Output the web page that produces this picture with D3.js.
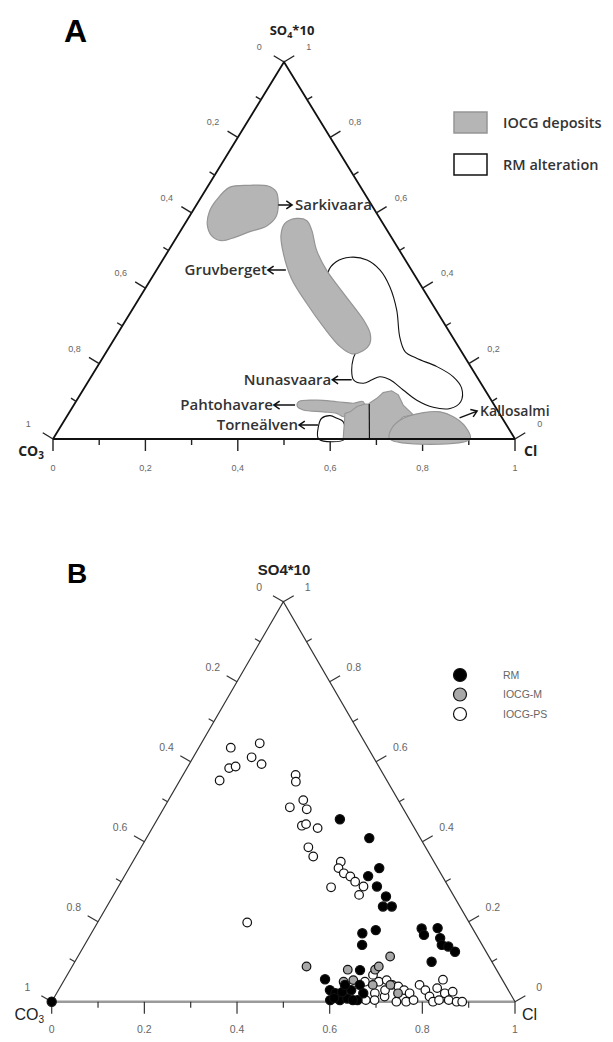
<!DOCTYPE html>
<html>
<head>
<meta charset="utf-8">
<script src="https://cdn.jsdelivr.net/npm/d3@7/dist/d3.min.js"></script>
<style>
  body { margin: 0; background: #fff; }
  text { font-family: "Liberation Sans", Arial, sans-serif; }
</style>
</head>
<body>
<svg id="chart" width="613" height="1042"></svg>
<script>
// all compositions are [Cl, SO4*10] fractions, CO3 = 1 - Cl - SO4

// --- panel A: fields ---
var sarkivaara = [[0.049,0.668],[0.090,0.673],[0.130,0.671],[0.155,0.656],[0.173,0.629],[0.188,0.590],[0.180,0.565],[0.151,0.550],[0.126,0.535],[0.102,0.526],[0.074,0.539],[0.050,0.568],[0.037,0.603],[0.037,0.634]];
var gruvberget = [[0.235,0.585],[0.260,0.579],[0.283,0.554],[0.320,0.501],[0.368,0.448],[0.435,0.387],[0.514,0.316],[0.545,0.282],[0.559,0.254],[0.554,0.234],[0.534,0.226],[0.499,0.245],[0.436,0.298],[0.369,0.360],[0.303,0.426],[0.252,0.493],[0.223,0.541],[0.216,0.572]];
var rmAlteration = [[0.402,0.482],[0.442,0.475],[0.484,0.448],[0.527,0.404],[0.573,0.342],[0.615,0.271],[0.646,0.232],[0.680,0.214],[0.735,0.192],[0.784,0.165],[0.817,0.135],[0.833,0.099],[0.819,0.081],[0.781,0.084],[0.736,0.103],[0.693,0.130],[0.651,0.157],[0.625,0.165],[0.612,0.157],[0.598,0.148],[0.572,0.157],[0.555,0.183],[0.543,0.214],[0.540,0.232],[0.524,0.280],[0.487,0.311],[0.439,0.355],[0.402,0.395],[0.374,0.443],[0.378,0.470]];
var torneaelven = [[0.575,0],[0.558,0.033],[0.554,0.055],[0.569,0.062],[0.587,0.055],[0.605,0.046],[0.632,0]];
var pahtohavare = [[0.482,0.099],[0.519,0.103],[0.565,0.099],[0.603,0.095],[0.622,0.099],[0.638,0.068],[0.609,0.068],[0.599,0.059],[0.580,0.068],[0.549,0.072],[0.503,0.077],[0.486,0.086]];
var centralLeft = [[0.628,0],[0.598,0.068],[0.607,0.072],[0.615,0.086],[0.629,0.093],[0.638,0.093],[0.685,0]];
var centralRight = [[0.685,0],[0.637,0.095],[0.647,0.108],[0.653,0.123],[0.669,0.128],[0.689,0.117],[0.713,0.090],[0.748,0.064],[0.729,0.059],[0.720,0.033],[0.729,0]];
var kallosalmi = [[0.729,0],[0.719,0.028],[0.731,0.055],[0.767,0.070],[0.802,0.072],[0.837,0.059],[0.876,0.033],[0.903,0]];
var divider = [[0.638,0.093],[0.685,0]];

// labels with arrows (tail at field, head at label)
var annoNames = ["Sarkivaara", "Gruvberget", "Nunasvaara", "Pahtohavare", "Torneälven", "Kallosalmi"];
var annoFrom = [[0.177,0.621],[0.280,0.448],[0.568,0.157],[0.479,0.090],[0.555,0.037],[0.852,0.056]];
var annoTo = [[0.207,0.621],[0.241,0.448],[0.526,0.157],[0.433,0.090],[0.514,0.037],[0.881,0.074]];

// --- panel B: samples ---
var rmPoints = [[0,0],
  [0.394,0.456],[0.481,0.409],[0.540,0.334],[0.526,0.314],[0.558,0.288],[0.590,0.263],[0.596,0.238],
  [0.615,0.238],[0.610,0.179],[0.585,0.171],[0.599,0.142],
  [0.707,0.183],[0.720,0.167],[0.741,0.184],[0.759,0.159],[0.771,0.142],[0.787,0.138],[0.808,0.125],[0.770,0.100],
  [0.562,0.056],[0.586,0.029],[0.602,0.021],[0.599,0.004],[0.620,0.004],[0.634,0.008],[0.632,0.029],
  [0.658,0.004],[0.626,0.079],[0.662,0.021],[0.615,0.024],[0.648,0.004],[0.612,0.042],[0.605,0.009],[0.644,0.042]];
var iocgMPoints = [[0.506,0.088],[0.599,0.080],[0.624,0.054],[0.658,0.080],[0.662,0.088],[0.674,0.113],
  [0.605,0.050],[0.626,0.025],[0.672,0.042],[0.710,0.042],[0.737,0.021]];
var iocgPSPoints = [[0.069,0.635],[0.126,0.646],[0.126,0.611],[0.156,0.594],[0.091,0.584],[0.103,0.588],[0.086,0.553],
  [0.243,0.567],[0.252,0.550],[0.291,0.504],[0.310,0.481],[0.271,0.486],[0.320,0.440],[0.327,0.444],
  [0.357,0.434],[0.361,0.386],[0.383,0.363],[0.449,0.350],[0.452,0.334],[0.470,0.321],[0.488,0.313],
  [0.505,0.300],[0.529,0.288],[0.530,0.267],[0.460,0.286],[0.323,0.198],
  [0.660,0.067],[0.681,0.050],[0.696,0.054],[0.714,0.042],[0.729,0.038],[0.746,0.029],[0.687,0.021],
  [0.712,0.013],[0.744,0.000],[0.765,0.000],[0.762,0.021],[0.779,0.004],[0.773,0.042],[0.792,0.029],
  [0.809,0.013],[0.823,0.000],[0.815,0.034],[0.817,0.055],[0.838,0.021],[0.855,0.004],[0.853,0.025],
  [0.874,0.000],[0.886,0.000],[0.834,0.004],[0.695,0.004],[0.651,0.050],[0.676,0.004],[0.705,0.029]];

// axes
var tickValues = [0, 0.1, 0.2, 0.3, 0.4, 0.5, 0.6, 0.7, 0.8, 0.9, 1];
var tickLabelsA = ["0", "0,2", "0,4", "0,6", "0,8", "1"];
var tickLabelsB = ["0", "0.2", "0.4", "0.6", "0.8", "1"];

var legendA = ["IOCG deposits", "RM alteration"];
var legendB = ["RM", "IOCG-M", "IOCG-PS"];

var svg = d3.select("#chart");

function ternary(g, box) {
    var x = d3.scaleLinear().domain([0, 1]).range([box.x0, box.x1]);
    var y = d3.scaleLinear().domain([0, 1]).range([box.base, box.apex]);
    var t = { x: x, y: y };
    t.pos = function(p) { return [x(p[0] + p[1] / 2), y(p[1])]; };
    var L = t.pos([0, 0]), R = t.pos([1, 0]), A = t.pos([0, 1]);
    function unit(v) { var l = Math.hypot(v[0], v[1]); return [v[0] / l, v[1] / l]; }
    var nLeft = unit([A[1] - L[1], -(A[0] - L[0])]);
    var nRight = unit([-(A[1] - R[1]), A[0] - R[0]]);

    g.append("path")
        .attr("d", "M" + L + "L" + R)
        .attr("stroke", box.baseColor).attr("stroke-width", box.baseWidth).attr("fill", "none");
    g.append("path")
        .attr("d", "M" + L + "L" + A + "L" + R)
        .attr("stroke", box.lineColor).attr("stroke-width", box.lineWidth)
        .attr("fill", "none").attr("stroke-linejoin", "miter");

    // three axes: bottom = Cl, left = CO3 (0 at apex), right = SO4 (0 at Cl corner)
    var axes = [
        { at: function(v) { return t.pos([v, 0]); }, n: [0, 1] },
        { at: function(v) { return t.pos([0, 1 - v]); }, n: nLeft },
        { at: function(v) { return t.pos([1 - v, v]); }, n: nRight }
    ];
    axes.forEach(function(ax) {
        tickValues.forEach(function(v, i) {
            var p = ax.at(v), len = i % 2 === 0 ? box.major : box.minor;
            g.append("line")
                .attr("x1", p[0]).attr("y1", p[1])
                .attr("x2", p[0] + ax.n[0] * len).attr("y2", p[1] + ax.n[1] * len)
                .attr("stroke", box.tickColor).attr("stroke-width", box.tickWidth);
            if (i % 2 === 0) {
                g.append("text")
                    .attr("x", p[0] + ax.n[0] * box.labelOff)
                    .attr("y", p[1] + ax.n[1] * box.labelOff)
                    .attr("dy", "0.35em")
                    .attr("text-anchor", "middle")
                    .attr("font-size", box.tickFont)
                    .attr("fill", "#666")
                    .text(box.labels[i / 2]);
            }
        });
    });
    return t;
}

// ---------- panel A ----------
var gA = svg.append("g");
var tA = ternary(gA, { x0: 53, x1: 515, base: 439, apex: 62, lineColor: "#111", lineWidth: 1.8,
    baseColor: "#111", baseWidth: 1.8, tickColor: "#222", tickWidth: 1.4, major: 12, minor: 6,
    labelOff: 29, tickFont: 9, labels: tickLabelsA });

var smooth = d3.line().curve(d3.curveCatmullRomClosed.alpha(0.5)).x(function(d) { return tA.pos(d)[0]; }).y(function(d) { return tA.pos(d)[1]; });
var straight = d3.line().curve(d3.curveLinearClosed).x(function(d) { return tA.pos(d)[0]; }).y(function(d) { return tA.pos(d)[1]; });
var grayFill = "#b5b5b5", grayStroke = "#959595";

gA.append("path").attr("d", smooth(rmAlteration)).attr("fill", "#fff").attr("stroke", "#111").attr("stroke-width", 1.1);
gA.append("path").attr("d", smooth(sarkivaara)).attr("fill", grayFill).attr("stroke", grayStroke).attr("stroke-width", 1.2);
gA.append("path").attr("d", smooth(gruvberget)).attr("fill", grayFill).attr("stroke", grayStroke).attr("stroke-width", 1.2);
gA.append("path").attr("d", smooth(torneaelven)).attr("fill", "#fff").attr("stroke", "#111").attr("stroke-width", 1.1);
[pahtohavare, centralLeft, centralRight, kallosalmi].forEach(function(shape, i) {
    gA.append("path").attr("d", (i === 0 || i === 3) ? smooth(shape) : straight(shape))
        .attr("fill", grayFill).attr("stroke", grayStroke).attr("stroke-width", 1.1);
});
gA.append("path").attr("d", d3.line().x(function(d) { return tA.pos(d)[0]; }).y(function(d) { return tA.pos(d)[1]; })(divider))
    .attr("stroke", "#111").attr("stroke-width", 1.1).attr("fill", "none");
// redraw base line over the fields
gA.append("line").attr("x1", tA.pos([0, 0])[0]).attr("x2", tA.pos([1, 0])[0])
    .attr("y1", tA.y(0)).attr("y2", tA.y(0)).attr("stroke", "#111").attr("stroke-width", 1.8);

// arrows + names
annoNames.forEach(function(name, i) {
    var a = tA.pos(annoFrom[i]), b = tA.pos(annoTo[i]);
    var ang = Math.atan2(b[1] - a[1], b[0] - a[0]), h = 7, w = 0.6;
    var p1 = [b[0] - h * Math.cos(ang - w), b[1] - h * Math.sin(ang - w)];
    var p2 = [b[0] - h * Math.cos(ang + w), b[1] - h * Math.sin(ang + w)];
    gA.append("path").attr("d", "M" + a + "L" + b + "M" + p1 + "L" + b + "L" + p2)
        .attr("stroke", "#111").attr("stroke-width", 1.5).attr("fill", "none");
    var right = b[0] > a[0];
    gA.append("text")
        .attr("x", b[0] + (right ? 3 : -1)).attr("y", b[1])
        .attr("dy", "0.35em")
        .attr("text-anchor", right ? "start" : "end")
        .style("font-family", "'Open Sans', sans-serif")
        .attr("font-size", i === 5 ? 14 : 15).attr("font-weight", 600).attr("fill", "#333")
        .text(name);
});

// titles
gA.append("text").attr("x", 64).attr("y", 42).attr("font-size", 32).attr("font-weight", "bold").text("A");
var sA = gA.append("text").attr("x", 292).attr("y", 35).attr("text-anchor", "middle")
    .style("font-family", "'Open Sans', sans-serif").attr("font-size", 13).attr("font-weight", "bold").attr("fill", "#222");
sA.append("tspan").text("SO");
sA.append("tspan").attr("font-size", 9).attr("dy", 3).text("4");
sA.append("tspan").attr("dy", -3).text("*10");
var cA = gA.append("text").attr("x", 44).attr("y", 456).attr("text-anchor", "end")
    .style("font-family", "'Open Sans', sans-serif").attr("font-size", 14).attr("font-weight", "bold").attr("fill", "#222");
cA.append("tspan").text("CO");
cA.append("tspan").attr("font-size", 10).attr("dy", 3).text("3");
gA.append("text").attr("x", 524).attr("y", 456)
    .style("font-family", "'Open Sans', sans-serif").attr("font-size", 14).attr("font-weight", "bold").attr("fill", "#222").text("Cl");

// legend A
legendA.forEach(function(label, i) {
    gA.append("rect").attr("x", 454).attr("y", 112 + i * 42).attr("width", 33).attr("height", 21)
        .attr("fill", i === 0 ? grayFill : "#fff").attr("stroke", i === 0 ? grayStroke : "#111").attr("stroke-width", 1.5);
    gA.append("text").attr("x", 503).attr("y", 123 + i * 42).attr("dy", "0.35em")
        .style("font-family", "'Open Sans', sans-serif").attr("font-size", 14.5).attr("font-weight", 600).attr("fill", "#333")
        .text(label);
});

// ---------- panel B ----------
var gB = svg.append("g");
var tB = ternary(gB, { x0: 51.7, x1: 515, base: 1001.7, apex: 601.7, lineColor: "#333", lineWidth: 1.2,
    baseColor: "#9a9a9a", baseWidth: 2.6, tickColor: "#333", tickWidth: 1.2, major: 12, minor: 6,
    labelOff: 28, tickFont: 10.5, labels: tickLabelsB });

var series = [
    { pts: iocgPSPoints, fill: "#fff", r: 4.3 },
    { pts: iocgMPoints, fill: "#a8a8a8", r: 4.3 },
    { pts: rmPoints, fill: "#000", r: 4.6 }
];
series.forEach(function(s) {
    gB.append("g").selectAll("circle").data(s.pts).enter().append("circle")
        .attr("cx", function(d) { return tB.pos(d)[0]; })
        .attr("cy", function(d) { return tB.pos(d)[1]; })
        .attr("r", s.r)
        .attr("fill", s.fill).attr("stroke", "#111").attr("stroke-width", 1.2);
});

gB.append("text").attr("x", 67).attr("y", 583).attr("font-size", 28).attr("font-weight", "bold").text("B");
gB.append("text").attr("x", 284).attr("y", 575).attr("text-anchor", "middle")
    .attr("font-size", 15).attr("font-weight", "bold").attr("fill", "#222").text("SO4*10");
var cB = gB.append("text").attr("x", 44).attr("y", 1020).attr("text-anchor", "end")
    .attr("font-size", 16).attr("fill", "#222");
cB.append("tspan").text("CO");
cB.append("tspan").attr("font-size", 10).attr("dy", 3).text("3");
gB.append("text").attr("x", 522).attr("y", 1020).attr("font-size", 16).attr("fill", "#222").text("Cl");

legendB.forEach(function(label, i) {
    gB.append("circle").attr("cx", 460).attr("cy", 675 + i * 19.5).attr("r", 6.5)
        .attr("fill", series[2 - i].fill).attr("stroke", "#111").attr("stroke-width", 1.2);
    gB.append("text").attr("x", 503).attr("y", 675 + i * 19.5).attr("dy", "0.35em")
        .attr("font-size", 10.5).attr("fill", "#666").text(label);
});
</script>
</body>
</html>
